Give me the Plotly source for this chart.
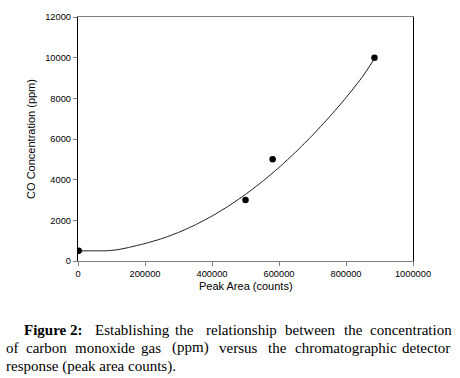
import plotly.graph_objects as go

# ---- data ----
peak_area = [2000, 500000, 581000, 885000]
co_ppm = [500, 3000, 5000, 10000]

fit_x = [0, 50000, 90000, 120000, 150000, 200000, 250000, 300000, 350000, 400000,
         450000, 500000, 550000, 600000, 650000, 700000, 750000, 800000, 850000, 885000]
fit_y = [500, 500, 505, 560, 660, 860, 1100, 1405, 1775, 2210,
         2710, 3275, 3905, 4600, 5360, 6185, 7075, 8030, 9080, 9950]

x_ticks = [0, 200000, 400000, 600000, 800000, 1000000]
y_ticks = [0, 2000, 4000, 6000, 8000, 10000, 12000]

x_title = "Peak Area (counts)"
y_title = "CO Concentration (ppm)"

caption_line1 = [("<b>Figure 2:</b>", 21.7), ("Establishing", 92.7), ("the", 173.3),
                 ("relationship", 204.0), ("between", 283.3), ("the", 341.7),
                 ("concentration", 368.3)]
caption_line2 = [("of", 4.0), ("carbon", 24.0), ("monoxide", 72.7), ("gas", 139.3),
                 ("(ppm)", 170.0), ("versus", 217.3), ("the", 266.0),
                 ("chromatographic", 293.3), ("detector", 400.7)]
caption_line3 = [("response (peak area counts).", 4.0)]

# ---- layout geometry (pixels) ----
W, H = 460, 378
L, R, T, B = 77.7, 413.3, 17, 261


def px2paper(px):
    return (px - L) / (R - L)


def py2paper(py):
    return (B - py) / (B - T)


sans = "Liberation Sans, Arial, sans-serif"
serif = "Liberation Serif, Times New Roman, serif"

fig = go.Figure()
fig.add_trace(go.Scatter(x=fit_x, y=fit_y, mode="lines",
                         line=dict(color="#1a1a1a", width=1, shape="spline", smoothing=0.5),
                         hoverinfo="skip"))
fig.add_trace(go.Scatter(x=peak_area, y=co_ppm, mode="markers",
                         marker=dict(color="black", size=6.5)))

annotations = []
annotations.append(dict(text=x_title, x=px2paper(245.5), y=py2paper(286),
                        xref="paper", yref="paper", showarrow=False,
                        xanchor="center", yanchor="middle",
                        font=dict(family=sans, size=11, color="black")))
annotations.append(dict(text=y_title, x=px2paper(30), y=py2paper(138.5),
                        xref="paper", yref="paper", showarrow=False, textangle=-90,
                        xanchor="center", yanchor="middle",
                        font=dict(family=sans, size=11, color="black")))

for words, baseline in ((caption_line1, 334.7), (caption_line2, 352.5), (caption_line3, 371.3)):
    for w, xs in words:
        annotations.append(dict(text=w, x=px2paper(xs), y=py2paper(baseline - 5),
                                xref="paper", yref="paper", showarrow=False,
                                xanchor="left", yanchor="middle",
                                font=dict(family=serif, size=15, color="black")))

fig.update_layout(
    width=W, height=H,
    margin=dict(l=L, r=W - R, t=T, b=H - B, pad=0),
    paper_bgcolor="white", plot_bgcolor="white",
    showlegend=False,
    annotations=annotations,
    xaxis=dict(range=[0, 1000000], tickvals=x_ticks,
               ticktext=[str(v) for v in x_ticks],
               showgrid=False, zeroline=False,
               showline=True, linecolor="#808080", linewidth=1, mirror=True,
               ticks="outside", ticklen=4, tickcolor="#808080",
               tickfont=dict(family=sans, size=9.3, color="black")),
    yaxis=dict(range=[0, 12000], tickvals=y_ticks,
               ticktext=[str(v) for v in y_ticks],
               showgrid=False, zeroline=False,
               showline=True, linecolor="black", linewidth=1.3, mirror=True,
               ticks="outside", ticklen=4, tickcolor="#808080",
               tickfont=dict(family=sans, size=9.3, color="black")),
)

fig.write_html("out.html", config={"displayModeBar": False},
               post_script="document.body.style.margin='0';document.body.style.overflow='hidden';")
